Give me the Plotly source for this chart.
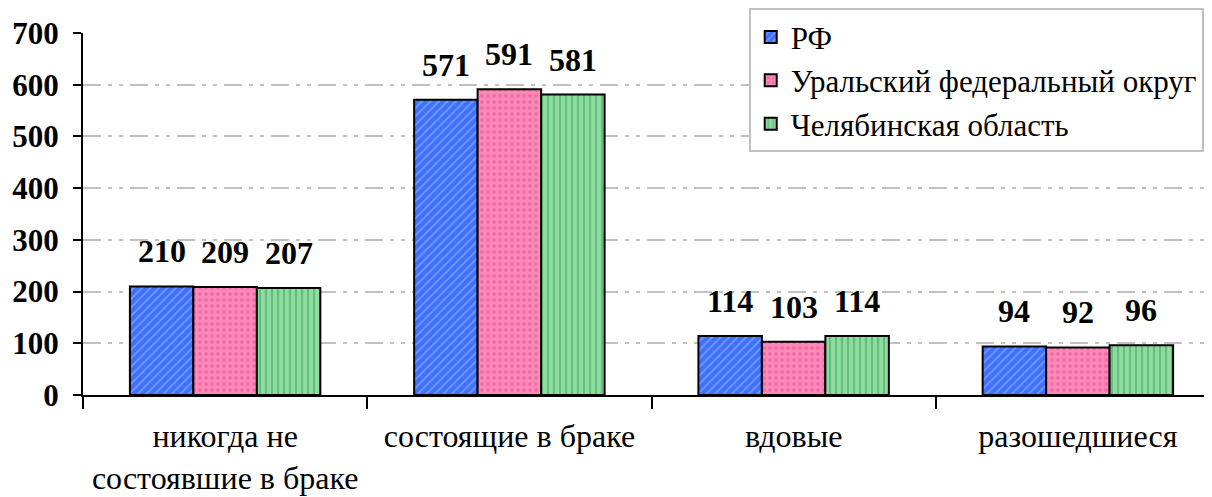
import plotly.graph_objects as go

categories = ["никогда не<br>состоявшие в браке", "состоящие в браке", "вдовые", "разошедшиеся"]
series_names = ["РФ", "Уральский федеральный округ", "Челябинская область"]
rf_values = [210, 571, 114, 94]
urfo_values = [209, 591, 103, 92]
chel_values = [207, 581, 114, 96]
y_ticks = [0, 100, 200, 300, 400, 500, 600, 700]

FONT = "Liberation Serif"

styles = [
    dict(bg="#3f6fff", fg="#9cc0ff", shape="/"),
    dict(bg="#ff88bb", fg="#d9558f", shape="."),
    dict(bg="#8fdca0", fg="#3c9e58", shape="|"),
]

fig = go.Figure()
for name, vals, st in zip(series_names, [rf_values, urfo_values, chel_values], styles):
    fig.add_trace(go.Bar(
        x=categories, y=vals, name=name,
        marker=dict(
            color=st["bg"],
            line=dict(color="black", width=2),
            pattern=dict(shape=st["shape"], fgcolor=st["fg"], bgcolor=st["bg"],
                         size=6, solidity=0.35, fillmode="overlay"),
        ),
    ))

# подписи значений над столбцами
bar_px = 63.4
annotations = []
for i, vals in enumerate([rf_values, urfo_values, chel_values]):
    for cat, v in zip(categories, vals):
        annotations.append(dict(
            x=cat, y=v, xref="x", yref="y", text=f"<b>{v}</b>",
            showarrow=False, yanchor="bottom", yshift=15, xshift=(i - 1) * bar_px,
            font=dict(family=FONT, size=32, color="black"),
        ))

fig.update_layout(
    width=1212, height=497,
    margin=dict(l=75, r=0, t=25, b=110, autoexpand=False),
    plot_bgcolor="white", paper_bgcolor="white",
    barmode="group", bargap=0.33, bargroupgap=0,
    font=dict(family=FONT, size=32, color="black"),
    annotations=annotations,
    legend=dict(
        x=0.5855, y=1.068, xanchor="left", yanchor="top",
        bordercolor="#c0c0c0", borderwidth=2, bgcolor="white",
        font=dict(family=FONT, size=31, color="black"),
        itemwidth=30, tracegroupgap=0,
    ),
    showlegend=True,
)
fig.update_xaxes(
    type="category", range=[-0.5, 3.5], automargin=False,
    showline=True, linecolor="black", linewidth=2,
    ticks="outside", tickson="boundaries", ticklen=12, tickwidth=2, tickcolor="black",
    ticklabelstandoff=12,
    showgrid=False, tickfont=dict(family=FONT, size=32, color="black"),
)
fig.update_yaxes(
    range=[0, 700], tickvals=y_ticks, automargin=False,
    showline=True, linecolor="black", linewidth=2,
    ticks="outside", ticklen=8, tickwidth=2, tickcolor="black",
    ticklabelstandoff=8,
    showgrid=True, gridcolor="#c0c0c0", gridwidth=2,
    griddash="18px,7px,4px,7px,4px,7px",
    zeroline=False,
    tickfont=dict(family=FONT, size=31, color="black", weight="bold"),
)

fig.write_html("out.html")
